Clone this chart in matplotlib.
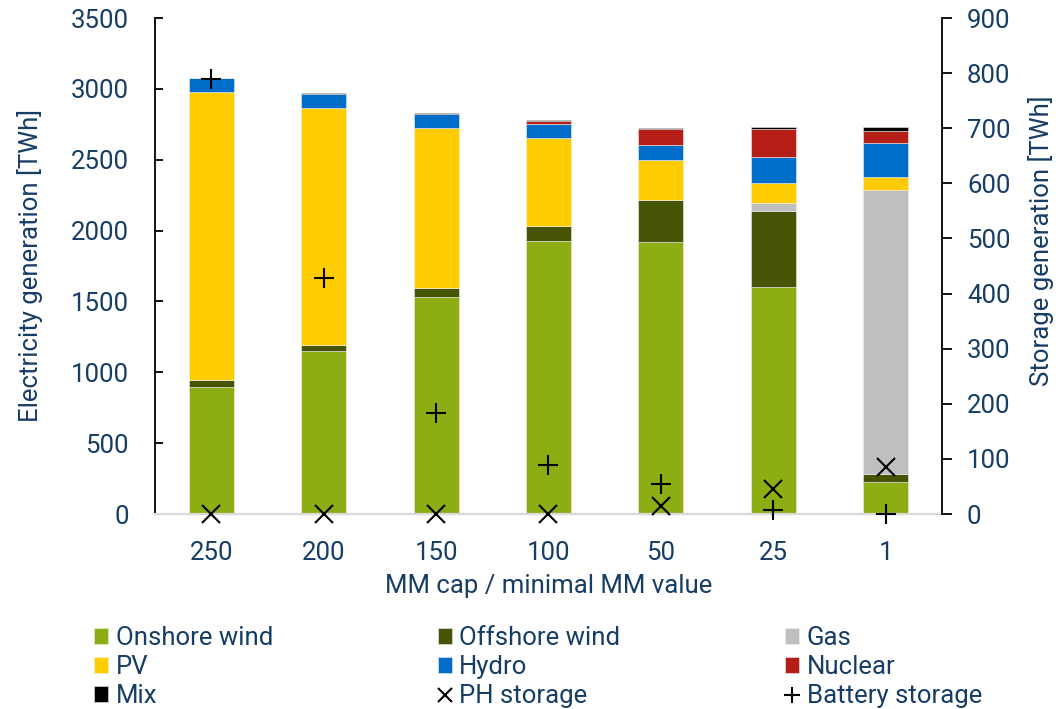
import numpy as np
import matplotlib
matplotlib.use('Agg')
import matplotlib.pyplot as plt
from matplotlib.lines import Line2D

# MM cap cases on the x axis
mm_cases = ['250', '200', '150', '100', '50', '25', '1']

# electricity generation per technology [TWh]
onshore = [895, 1150, 1531, 1926, 1919, 1600, 228]
offshore = [50, 42, 64, 108, 294, 540, 54]
gas = [0, 0, 0, 0, 0, 52, 2002]
pv = [2035, 1670, 1126, 617, 287, 144, 94]
hydro = [94, 101, 99, 99, 101, 183, 242]
nuclear = [0, 0, 0, 23, 115, 195, 82]
mix = [5, 8, 8, 7, 8, 14, 31]

# storage generation [TWh], right axis
ph_storage = [0, 0, 0, 0, 15, 46, 85]
battery_storage = [789, 428, 183, 89, 54, 8, 0]

txt_col = '#163d66'
plt.rcParams['font.family'] = ['Roboto', 'DejaVu Sans']
plt.rcParams['font.size'] = 18.5
plt.rcParams['text.color'] = txt_col

stack = [
    ('Onshore wind', onshore, '#8cae12'),
    ('Offshore wind', offshore, '#465406'),
    ('Gas', gas, '#bfbfbf'),
    ('PV', pv, '#ffcc00'),
    ('Hydro', hydro, '#006ec8'),
    ('Nuclear', nuclear, '#b51d17'),
    ('Mix', mix, '#000000'),
]

fig = plt.figure(figsize=(10.64, 7.09), dpi=100)
ax = fig.add_axes([155/1064., 1 - 514/709., 787/1064., 496/709.])
ax2 = ax.twinx()

x = np.arange(len(mm_cases))
bottom = np.zeros(len(mm_cases))
bars = {}
for name, vals, col in stack:
    vals = np.array(vals, dtype=float)
    bars[name] = ax.bar(x, vals, 0.4, bottom=bottom, color=col,
                        edgecolor='#eeeeee', linewidth=0.4, zorder=2)
    bottom += vals

ax.set_xlim(-0.5, len(mm_cases) - 0.5)
ax.set_ylim(0, 3500)
ax.set_yticks(np.arange(0, 3501, 500))
ax.set_xticks(x)
ax.set_xticklabels(mm_cases)

# storage markers on the twin axis
ax2.plot(x, ph_storage, 'x', color='black', markersize=13, mew=1.5, clip_on=False, zorder=5)
ax2.plot(x, battery_storage, '+', color='black', markersize=14, mew=1.5, clip_on=False, zorder=5)
ax2.set_ylim(0, 900)
ax2.set_yticks(np.arange(0, 901, 100))

# spines
for s in ['top', 'right']:
    ax.spines[s].set_visible(False)
for s in ['top', 'left', 'bottom']:
    ax2.spines[s].set_visible(False)
ax.spines['left'].set_linewidth(1.3)
ax2.spines['right'].set_linewidth(1.3)
ax.spines['bottom'].set_color('#d9d9d9')
ax.spines['bottom'].set_linewidth(1.6)

ax.tick_params(axis='y', direction='in', length=6, width=1.3, pad=19, labelcolor=txt_col)
ax.tick_params(axis='x', length=0, pad=19.5, labelcolor=txt_col)
ax2.tick_params(axis='y', direction='out', length=7, width=1.3, pad=11, labelcolor=txt_col)

ax.set_ylabel('Electricity generation [TWh]', color=txt_col)
ax.yaxis.set_label_coords(-0.142, 0.5)
ax2.set_ylabel('Storage generation [TWh]', color=txt_col)
ax2.yaxis.set_label_coords(1.109, 0.55)
ax.set_xlabel('MM cap / minimal MM value', color=txt_col)
ax.xaxis.set_label_coords(0.5, -0.12)

# legend, filled column by column so reorder to read row-wise
ph_h = Line2D([], [], ls='none', marker='x', color='black', markersize=13, mew=1.5)
bat_h = Line2D([], [], ls='none', marker='+', color='black', markersize=14, mew=1.5)
handles = [bars['Onshore wind'], bars['PV'], bars['Mix'],
           bars['Offshore wind'], bars['Hydro'], ph_h,
           bars['Gas'], bars['Nuclear'], bat_h]
labels = ['Onshore wind', 'PV', 'Mix',
          'Offshore wind', 'Hydro', 'PH storage',
          'Gas', 'Nuclear', 'Battery storage']
fig.legend(handles, labels, ncol=3, loc='upper left', mode='expand',
           bbox_to_anchor=(94/1064., 1 - 626/709., 888/1064., 0),
           frameon=False, handlelength=0.55, handleheight=0.55, handletextpad=0.3,
           labelspacing=0.2, borderpad=0, borderaxespad=0, markerscale=0.8,
           labelcolor=txt_col)

plt.savefig('out.png', dpi=100)
